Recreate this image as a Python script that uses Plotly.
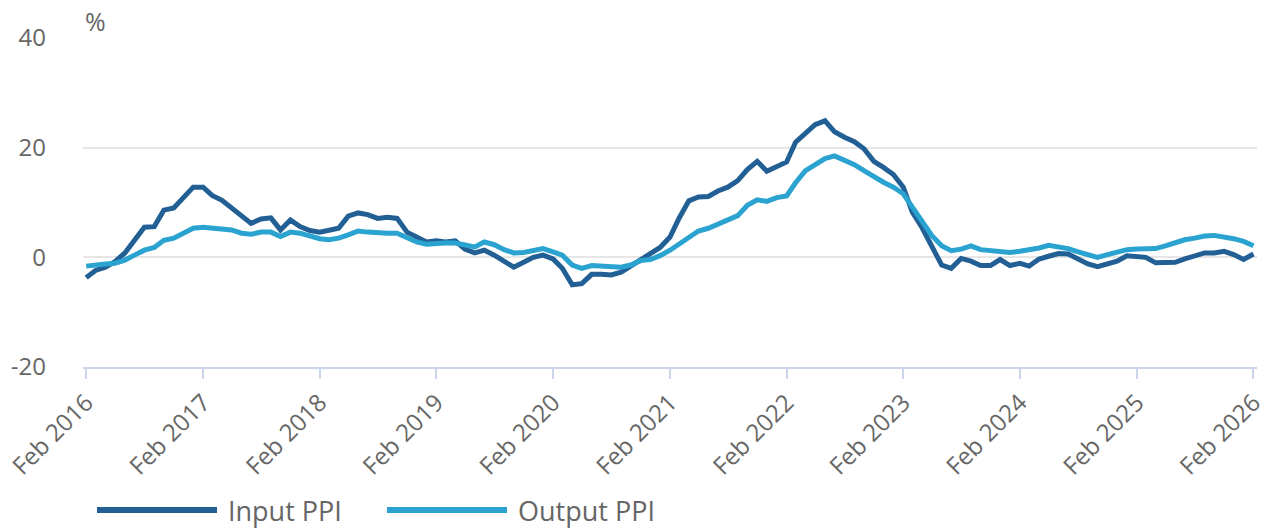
import plotly.graph_objects as go
import pandas as pd

dates = pd.date_range("2016-02-01", "2026-02-01", freq="MS")

input_ppi = [
    -3.7, -2.4, -1.8, -0.8, 0.8, 3.2, 5.5, 5.6, 8.6, 9.0, 10.8,
    12.8, 12.8, 11.3, 10.4, 9.0, 7.5, 6.2, 7.0, 7.2, 5.0, 6.8, 5.6,
    4.9, 4.6, 5.0, 5.3, 7.5, 8.1, 7.8, 7.1, 7.3, 7.1, 4.6, 3.7,
    2.8, 3.0, 2.8, 3.0, 1.5, 0.8, 1.3, 0.4, -0.8, -1.8, -0.9, 0.0,
    0.4, -0.3, -2.0, -5.0, -4.8, -3.1, -3.1, -3.2, -2.7, -1.6, -0.4, 0.7,
    1.8, 3.7, 7.1, 10.3, 11.0, 11.1, 12.1, 12.8, 14.0, 16.0, 17.5, 15.7,
    16.5, 17.4, 21.0, 22.6, 24.2, 24.9, 22.9, 21.9, 21.1, 19.8, 17.5, 16.4,
    15.1, 12.8, 8.3, 5.4, 1.8, -1.4, -2.0, -0.2, -0.7, -1.5, -1.5, -0.4,
    -1.5, -1.1, -1.6, -0.3, 0.2, 0.7, 0.6, -0.4, -1.2, -1.7, -1.2, -0.7,
    0.3, 0.2, 0.0, -1.0, -1.0, -0.9, -0.3, 0.3, 0.8, 0.8, 1.1, 0.5,
    -0.4, 0.6,
]

output_ppi = [
    -1.6, -1.3, -1.2, -1.1, -0.5, 0.4, 1.3, 1.8, 3.1, 3.5, 4.4,
    5.3, 5.5, 5.3, 5.2, 5.0, 4.4, 4.2, 4.6, 4.6, 3.8, 4.6, 4.4,
    3.8, 3.4, 3.2, 3.5, 4.1, 4.8, 4.6, 4.4, 4.4, 4.4, 3.7, 2.8,
    2.4, 2.6, 2.6, 2.6, 2.2, 1.9, 2.8, 2.3, 1.4, 0.8, 0.9, 1.2,
    1.6, 1.0, 0.4, -1.4, -2.0, -1.5, -1.6, -1.8, -1.8, -1.4, -0.6, -0.4,
    0.3, 1.3, 2.4, 3.7, 4.8, 5.3, 6.0, 6.7, 7.6, 9.5, 10.5, 10.2,
    10.9, 11.2, 13.6, 15.8, 16.9, 18.0, 18.5, 17.7, 16.9, 15.8, 14.6, 13.7,
    12.8, 11.6, 9.2, 6.5, 4.0, 2.1, 1.2, 1.5, 2.1, 1.4, 1.2, 1.1,
    0.9, 1.1, 1.3, 1.7, 2.2, 2.0, 1.6, 1.0, 0.4, 0.0, 0.5, 0.9,
    1.4, 1.5, 1.5, 1.6, 2.1, 2.7, 3.2, 3.5, 3.9, 4.0, 3.8, 3.4,
    2.9, 2.1,
]

series_names = ["Input PPI", "Output PPI"]
colors = ["#215f94", "#2aa3d0"]

tick_dates = pd.date_range("2016-02-01", "2026-02-01", freq="12MS")
tick_text = [d.strftime("Feb %Y") for d in tick_dates]
y_ticks = [-20, 0, 20, 40]
y_tick_text = ["-20", "0", "20", "40"]

FONT = "Open Sans"
GREY = "#666666"

fig = go.Figure()
for name, vals, col in zip(series_names, [input_ppi, output_ppi], colors):
    fig.add_trace(go.Scatter(x=dates, y=vals, mode="lines", name=name,
                             line=dict(color=col, width=5), showlegend=False))

fig.update_layout(
    width=1267, height=528,
    margin=dict(l=83, r=10, t=38, b=161),
    paper_bgcolor="white", plot_bgcolor="white",
    font=dict(family=FONT, color=GREY),
    xaxis=dict(
        range=["2016-01-22", "2026-02-12"],
        tickvals=tick_dates, ticktext=tick_text, tickangle=-45,
        tickfont=dict(size=24, color=GREY, family=FONT),
        showgrid=False, zeroline=False, automargin=False,
        showline=True, linecolor="#ccd6eb", linewidth=2,
        ticks="outside", ticklen=10, tickcolor="#ccd6eb", tickwidth=2,
    ),
    yaxis=dict(
        range=[-20, 40], tickvals=y_ticks, ticktext=y_tick_text,
        tickfont=dict(size=24, color=GREY, family=FONT),
        showgrid=True, gridcolor="#e6e6e6", gridwidth=2,
        zeroline=False, showline=False, automargin=False,
        ticklabelstandoff=36,
    ),
)

fig.add_annotation(text="%", xref="paper", yref="paper", x=0.0, y=1.0,
                   xanchor="left", yanchor="bottom", showarrow=False,
                   font=dict(size=25, color=GREY, family=FONT), yshift=-2)

# legend drawn below the plot
PLOT_L, PLOT_W, PLOT_B, PLOT_H = 83, 1174, 367, 329

def px_x(px):
    return (px - PLOT_L) / PLOT_W

def px_y(py):
    return (PLOT_B - py) / PLOT_H

legend_items = [(97, 217, 226), (387, 507, 516)]
for (x0, x1, tx), name, col in zip(legend_items, series_names, colors):
    fig.add_shape(type="line", xref="paper", yref="paper",
                  x0=px_x(x0), x1=px_x(x1), y0=px_y(510), y1=px_y(510),
                  line=dict(color=col, width=6))
    fig.add_annotation(text=name, xref="paper", yref="paper",
                       x=px_x(tx), y=px_y(510), xanchor="left", yanchor="middle",
                       showarrow=False, font=dict(size=27, color=GREY, family=FONT))

fig.write_html("out.html", config={"displayModeBar": False},
               post_script="document.body.style.margin='0';")
